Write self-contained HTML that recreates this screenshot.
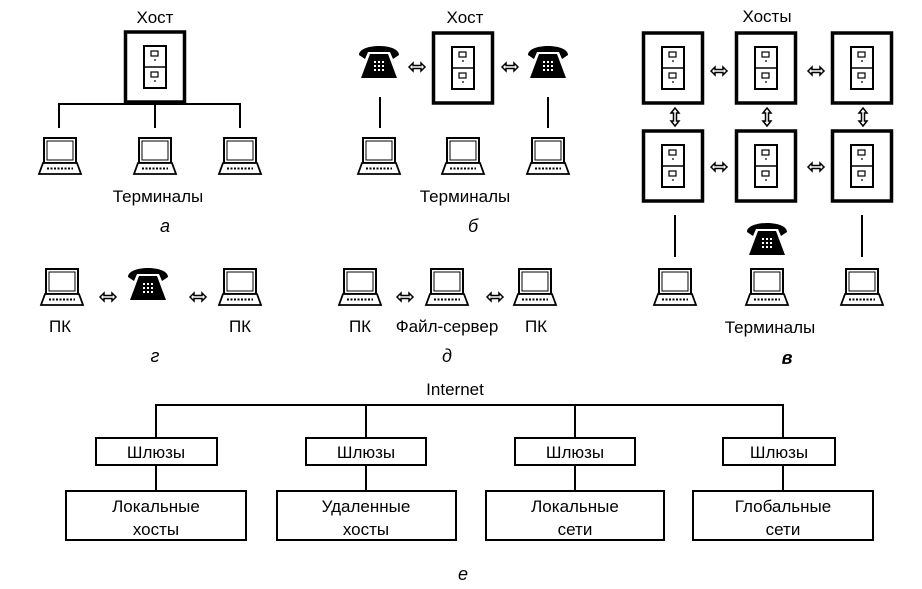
<!DOCTYPE html>
<html><head><meta charset="utf-8"><style>
html,body{margin:0;padding:0;background:#fff}
svg{display:block}
text{font-family:"Liberation Sans",sans-serif;fill:#000}
</style></head><body>
<svg width="922" height="589" viewBox="0 0 922 589" xmlns="http://www.w3.org/2000/svg">
<defs>
<g id="lap">
 <rect x="-16" y="0" width="32" height="25" fill="#fff" stroke="#000" stroke-width="2"/>
 <rect x="-13" y="3" width="26" height="19" fill="none" stroke="#000" stroke-width="1"/>
 <path d="M-17,25 L17,25 L21,36 L-21,36 Z" fill="#fff" stroke="#000" stroke-width="1.8"/>
 <line x1="-13" y1="30.5" x2="13" y2="30.5" stroke="#000" stroke-width="2" stroke-dasharray="2,1.5"/>
</g>
<g id="cab">
 <rect x="-11" y="0" width="22" height="42" fill="#fff" stroke="#000" stroke-width="2"/>
 <line x1="-11" y1="21" x2="11" y2="21" stroke="#000" stroke-width="1.5"/>
 <rect x="-4" y="5" width="7" height="5" fill="none" stroke="#000" stroke-width="1.2"/>
 <line x1="-1" y1="14" x2="1" y2="14" stroke="#000" stroke-width="1.2"/>
 <rect x="-4" y="26" width="7" height="5" fill="none" stroke="#000" stroke-width="1.2"/>
 <line x1="-1" y1="35" x2="1" y2="35" stroke="#000" stroke-width="1.2"/>
</g>
<g id="ph">
 <path d="M-20,9 C-20,-3 20,-3 20,9 L14,13 L11,6 L-11,6 L-14,13 Z" fill="#000"/>
 <path d="M-9,8 L9,8 L18,32 L-18,32 Z" fill="#000"/>
 <g fill="#fff"><rect x="-5" y="15" width="2" height="2"/><rect x="-1" y="15" width="2" height="2"/><rect x="3" y="15" width="2" height="2"/>
 <rect x="-5" y="19" width="2" height="2"/><rect x="-1" y="19" width="2" height="2"/><rect x="3" y="19" width="2" height="2"/>
 <rect x="-5" y="23" width="2" height="2"/><rect x="-1" y="23" width="2" height="2"/><rect x="3" y="23" width="2" height="2"/></g>
</g>
<path id="ah" d="M-8,0 L-4,-4 L-4,-1.5 L4,-1.5 L4,-4 L8,0 L4,4 L4,1.5 L-4,1.5 L-4,4 Z" fill="#fff" stroke="#000" stroke-width="1.5"/>
<path id="av" d="M0,-9 L-4,-4 L-1.5,-4 L-1.5,4 L-4,4 L0,9 L4,4 L1.5,4 L1.5,-4 L4,-4 Z" fill="#fff" stroke="#000" stroke-width="1.5"/>
<g id="hb">
 <rect x="-29.5" y="0" width="59" height="70" fill="#fff" stroke="#000" stroke-width="3.5"/>
 <use href="#cab" y="14"/>
</g>
</defs>

<!-- a -->
<text x="155" y="23" font-size="17" text-anchor="middle">Хост</text>
<use href="#hb" x="155" y="32"/>
<path d="M59,128 V104 H240 V128 M155,104 V128" fill="none" stroke="#000" stroke-width="2"/>
<use href="#lap" x="60" y="138"/><use href="#lap" x="155" y="138"/><use href="#lap" x="240" y="138"/>
<text x="158" y="202" font-size="17" text-anchor="middle">Терминалы</text>
<text x="165" y="232" font-size="18" font-style="italic" text-anchor="middle">а</text>

<!-- б -->
<text x="465" y="23" font-size="17" text-anchor="middle">Хост</text>
<use href="#hb" x="463" y="33"/>
<use href="#ph" x="379" y="46"/><use href="#ph" x="548" y="46"/>
<use href="#ah" x="417" y="67"/><use href="#ah" x="510" y="67"/>
<path d="M380,97 V128 M548,97 V128" stroke="#000" stroke-width="2"/>
<use href="#lap" x="379" y="138"/><use href="#lap" x="463" y="138"/><use href="#lap" x="548" y="138"/>
<text x="465" y="202" font-size="17" text-anchor="middle">Терминалы</text>
<text x="473" y="232" font-size="18" font-style="italic" text-anchor="middle">б</text>

<!-- в -->
<text x="767" y="22" font-size="17" text-anchor="middle">Хосты</text>
<use href="#hb" x="673" y="33"/><use href="#hb" x="766" y="33"/><use href="#hb" x="862" y="33"/>
<use href="#hb" x="673" y="131"/><use href="#hb" x="766" y="131"/><use href="#hb" x="862" y="131"/>
<use href="#ah" x="719" y="71"/><use href="#ah" x="816" y="71"/>
<use href="#ah" x="719" y="167"/><use href="#ah" x="816" y="167"/>
<use href="#av" x="675" y="117"/><use href="#av" x="767" y="117"/><use href="#av" x="863" y="117"/>
<path d="M675,215 V257 M862,215 V257" stroke="#000" stroke-width="2"/>
<use href="#ph" x="767" y="223"/>
<use href="#lap" x="675" y="269"/><use href="#lap" x="767" y="269"/><use href="#lap" x="862" y="269"/>
<text x="770" y="333" font-size="17" text-anchor="middle">Терминалы</text>
<text x="787" y="364" font-size="18" font-style="italic" font-weight="bold" text-anchor="middle">в</text>

<!-- г -->
<use href="#lap" x="62" y="269"/><use href="#lap" x="240" y="269"/>
<use href="#ph" x="148" y="268"/>
<use href="#ah" x="108" y="297"/><use href="#ah" x="198" y="297"/>
<text x="60" y="332" font-size="17" text-anchor="middle">ПК</text>
<text x="240" y="332" font-size="17" text-anchor="middle">ПК</text>
<text x="155" y="362" font-size="18" font-style="italic" text-anchor="middle">г</text>

<!-- д -->
<use href="#lap" x="360" y="269"/><use href="#lap" x="447" y="269"/><use href="#lap" x="535" y="269"/>
<use href="#ah" x="405" y="297"/><use href="#ah" x="495" y="297"/>
<text x="360" y="332" font-size="17" text-anchor="middle">ПК</text>
<text x="447" y="332" font-size="17" text-anchor="middle">Файл-сервер</text>
<text x="536" y="332" font-size="17" text-anchor="middle">ПК</text>
<text x="447" y="362" font-size="18" font-style="italic" text-anchor="middle">д</text>

<!-- е -->
<text x="455" y="395" font-size="17" text-anchor="middle">Internet</text>
<path d="M156,438 V405 H783 V438 M366,405 V438 M575,405 V438 M156,465 V491 M366,465 V491 M575,465 V491 M783,465 V491" fill="none" stroke="#000" stroke-width="2"/>
<g fill="#fff" stroke="#000" stroke-width="2">
<rect x="96" y="438" width="121" height="27"/><rect x="306" y="438" width="120" height="27"/>
<rect x="515" y="438" width="120" height="27"/><rect x="723" y="438" width="112" height="27"/>
<rect x="66" y="491" width="180" height="49"/><rect x="277" y="491" width="179" height="49"/>
<rect x="486" y="491" width="178" height="49"/><rect x="693" y="491" width="180" height="49"/>
</g>
<g font-size="17" text-anchor="middle">
<text x="156" y="458">Шлюзы</text><text x="366" y="458">Шлюзы</text><text x="575" y="458">Шлюзы</text><text x="779" y="458">Шлюзы</text>
<text x="156" y="512">Локальные</text><text x="156" y="535">хосты</text>
<text x="366" y="512">Удаленные</text><text x="366" y="535">хосты</text>
<text x="575" y="512">Локальные</text><text x="575" y="535">сети</text>
<text x="783" y="512">Глобальные</text><text x="783" y="535">сети</text>
</g>
<text x="463" y="580" font-size="18" font-style="italic" text-anchor="middle">е</text>
</svg>
</body></html>
